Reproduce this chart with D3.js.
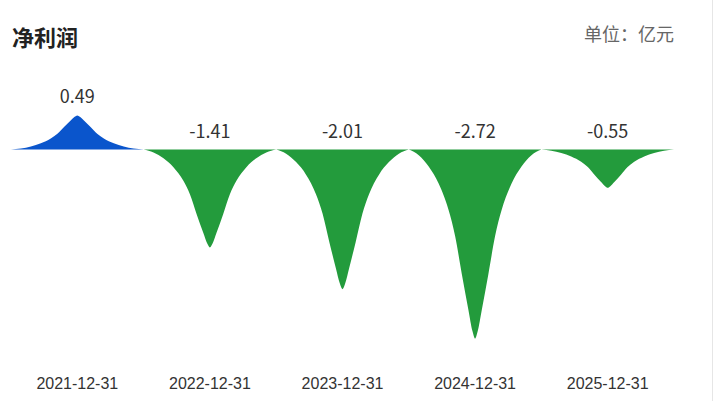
<!DOCTYPE html>
<html lang="zh">
<head>
    <meta charset="UTF-8">
    <title>净利润</title>
    <script src="https://d3js.org/d3.v7.min.js"></script>
    <style>
        body { margin: 0; background: #fff; }
        svg { display: block; font-family: "Microsoft YaHei", "Noto Sans CJK SC", sans-serif; }
        .axis-x text { font-size: 16px; fill: #333; }
        .value { font-size: 18px; fill: #333; }
    </style>
</head>
<body>
    <svg width="722" height="401"></svg>

    <script>
        const categories = ["2021-12-31", "2022-12-31", "2023-12-31", "2024-12-31", "2025-12-31"];
        const values = [0.49, -1.41, -2.01, -2.72, -0.55];
        const valueLabels = ["0.49", "-1.41", "-2.01", "-2.72", "-0.55"];

        // half-profile of one peak: offset from centre (0..1) -> share of height
        const profile = [
            [0, 1], [0.04, 0.96], [0.1, 0.85], [0.2, 0.66], [0.3, 0.46],
            [0.4, 0.32], [0.55, 0.18], [0.7, 0.09], [0.85, 0.03], [1, 0]
        ];

        const svg = d3.select("svg");

        // card border on the right
        svg.append("line")
            .attr("x1", 712.5).attr("x2", 712.5)
            .attr("y1", 0).attr("y2", 401)
            .attr("stroke", "#e6e6e6");

        svg.append("text")
            .attr("x", 12)
            .attr("y", 46)
            .attr("font-size", "22px")
            .attr("font-weight", "bold")
            .attr("fill", "#222")
            .text("净利润");

        svg.append("text")
            .attr("x", 674)
            .attr("y", 41)
            .attr("text-anchor", "end")
            .attr("font-size", "18px")
            .attr("fill", "#666")
            .text("单位：亿元");

        const x = d3.scaleBand()
            .domain(categories)
            .range([11, 674])
            .padding(0);

        const y = d3.scaleLinear()
            .domain([-3, 1])
            .range([358, 80]);

        const y0 = y(0);

        const line = d3.line().curve(d3.curveMonotoneX);

        function peakPath(d, i) {
            const cx = x(categories[i]) + x.bandwidth() / 2;
            const hw = x.bandwidth() / 2;
            const top = y(d);
            const left = profile.slice().reverse().map(p => [cx - p[0] * hw, y0 + p[1] * (top - y0)]);
            const right = profile.slice(1).map(p => [cx + p[0] * hw, y0 + p[1] * (top - y0)]);
            return line(left.concat(right)) + "Z";
        }

        svg.selectAll(".peak")
            .data(values)
            .enter().append("path")
            .attr("class", "peak")
            .attr("d", peakPath)
            .attr("fill", d => d >= 0 ? "#0a55cc" : "#239b3c");

        svg.selectAll(".value")
            .data(values)
            .enter().append("text")
            .attr("class", "value")
            .attr("x", (d, i) => x(categories[i]) + x.bandwidth() / 2)
            .attr("y", d => Math.min(y(d), y0) - 12)
            .attr("text-anchor", "middle")
            .text((d, i) => valueLabels[i]);

        const xAxis = d3.axisBottom(x).tickSize(0).tickPadding(0);

        svg.append("g")
            .attr("class", "axis-x")
            .attr("transform", "translate(0, 378)")
            .call(xAxis)
            .call(g => g.select(".domain").remove())
            .selectAll("text")
            .attr("font-family", null);
    </script>
</body>
</html>
